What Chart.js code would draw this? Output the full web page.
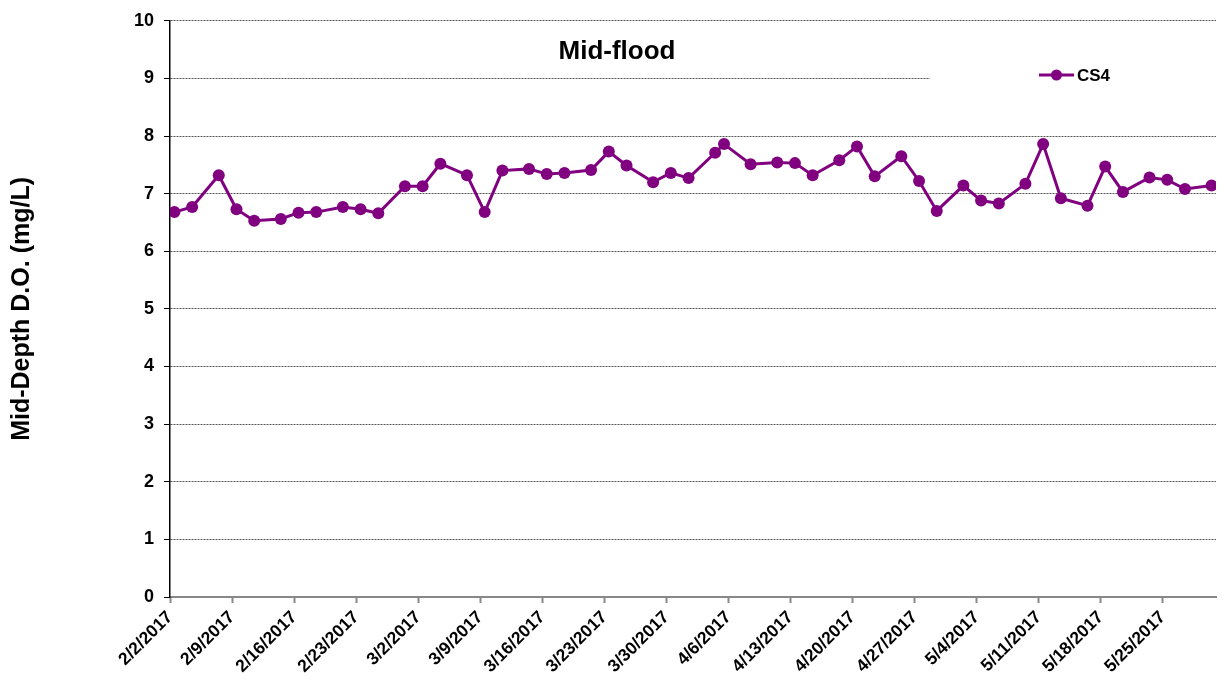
<!DOCTYPE html>
<html><head><meta charset="utf-8">
<script src="https://cdn.jsdelivr.net/npm/chart.js@4/dist/chart.umd.min.js"></script>
<style>html,body{margin:0;padding:0;background:#fff}#wrap{width:1227px;height:684px}</style>
</head><body><div id="wrap"><canvas id="c" width="1227" height="684"></canvas></div>
<script>
const startDate = "2/2/2017";
const axisEndDate = "5/31/2017";
const sampleDates = ["2/2/2017","2/4/2017","2/7/2017","2/9/2017","2/11/2017","2/14/2017","2/16/2017","2/18/2017","2/21/2017","2/23/2017","2/25/2017","2/28/2017","3/2/2017","3/4/2017","3/7/2017","3/9/2017","3/11/2017","3/14/2017","3/16/2017","3/18/2017","3/21/2017","3/23/2017","3/25/2017","3/28/2017","3/30/2017","4/1/2017","4/4/2017","4/5/2017","4/8/2017","4/11/2017","4/13/2017","4/15/2017","4/18/2017","4/20/2017","4/22/2017","4/25/2017","4/27/2017","4/29/2017","5/2/2017","5/4/2017","5/6/2017","5/9/2017","5/11/2017","5/13/2017","5/16/2017","5/18/2017","5/20/2017","5/23/2017","5/25/2017","5/27/2017","5/30/2017"];
const cs4Values = [6.68,6.77,7.32,6.73,6.53,6.56,6.67,6.68,6.77,6.73,6.66,7.13,7.13,7.52,7.32,6.68,7.40,7.43,7.34,7.36,7.41,7.73,7.49,7.20,7.36,7.27,7.71,7.86,7.51,7.54,7.53,7.32,7.58,7.82,7.30,7.65,7.22,6.70,7.14,6.88,6.83,7.17,7.86,6.92,6.79,7.47,7.03,7.28,7.24,7.08,7.14];
const xTickLabels = ["2/2/2017","2/9/2017","2/16/2017","2/23/2017","3/2/2017","3/9/2017","3/16/2017","3/23/2017","3/30/2017","4/6/2017","4/13/2017","4/20/2017","4/27/2017","5/4/2017","5/11/2017","5/18/2017","5/25/2017"];
const seriesName = "CS4";
const chartTitle = "Mid-flood";
const yAxisTitle = "Mid-Depth D.O. (mg/L)";
const yMin = 0, yMax = 10, yStep = 1;

const FONT = '"Liberation Sans", Arial, sans-serif';
const PURPLE = '#800080';

function dayOffset(s){
  const [m,d,y] = s.split('/').map(Number);
  const [m0,d0,y0] = startDate.split('/').map(Number);
  return Math.round((Date.UTC(y,m-1,d) - Date.UTC(y0,m0-1,d0)) / 86400000);
}
// Excel-style date axis: each day is a slot, the point sits in the middle of its slot
const points = sampleDates.map((s,i) => ({x: dayOffset(s) + 0.5, y: cs4Values[i]}));

const overlay = {
  id: 'overlay',
  beforeDatasetsDraw(chart, args, opts){
    const ctx = chart.ctx, ca = chart.chartArea;
    ctx.save();
    ctx.fillStyle = '#fff';
    ctx.fillRect(opts.legendBox.x, opts.legendBox.y, ca.right + 2 - opts.legendBox.x, opts.legendBox.h);
    ctx.restore();
  },
  afterDatasetsDraw(chart, args, opts){
    const ctx = chart.ctx;
    const ds = chart.data.datasets[0];
    ctx.save();
    // title
    ctx.fillStyle = '#000';
    ctx.font = 'bold 26px ' + FONT;
    ctx.textAlign = 'center';
    ctx.textBaseline = 'middle';
    ctx.fillText(chartTitle, opts.title.x, opts.title.y);
    // legend
    const L = opts.legend;
    ctx.strokeStyle = ds.borderColor;
    ctx.lineWidth = 3;
    ctx.beginPath();
    ctx.moveTo(L.x, L.y); ctx.lineTo(L.x + 35, L.y);
    ctx.stroke();
    ctx.fillStyle = ds.pointBackgroundColor;
    ctx.beginPath();
    ctx.arc(L.x + 17.5, L.y, 5.5, 0, Math.PI*2);
    ctx.fill();
    ctx.fillStyle = '#000';
    ctx.font = 'bold 17px ' + FONT;
    ctx.textAlign = 'left';
    ctx.fillText(ds.label, L.x + 38, L.y + 1);
    ctx.restore();
  }
};

new Chart(document.getElementById('c'), {
  type: 'line',
  data: {
    datasets: [{
      label: seriesName,
      data: points,
      borderColor: PURPLE,
      backgroundColor: PURPLE,
      pointBackgroundColor: PURPLE,
      pointBorderColor: PURPLE,
      borderWidth: 3,
      pointRadius: 6,
      pointBorderWidth: 0,
      tension: 0,
      fill: false
    }]
  },
  options: {
    responsive: false,
    animation: false,
    devicePixelRatio: 1,
    layout: {padding: {left: 0, right: 11, top: 20, bottom: 0}},
    plugins: {
      legend: {display: false},
      tooltip: {enabled: false},
      overlay: {
        title: {x: 617, y: 52},
        legend: {x: 1039, y: 75},
        legendBox: {x: 930, y: 60, h: 32}
      }
    },
    scales: {
      x: {
        type: 'linear',
        min: 0,
        max: dayOffset(axisEndDate),
        afterBuildTicks: s => { s.ticks = xTickLabels.map(l => ({value: dayOffset(l)})); },
        afterFit: s => { s.height = 87; },
        ticks: {
          autoSkip: false, minRotation: 45, maxRotation: 45,
          font: {family: FONT, size: 17.5, weight: 'bold'}, color: '#000', padding: 4,
          callback: (v, i) => xTickLabels[i]
        },
        grid: {drawOnChartArea: false, drawTicks: true, tickLength: 6, tickColor: '#888', tickWidth: 2},
        border: {color: '#888', width: 2}
      },
      y: {
        min: yMin, max: yMax,
        afterFit: s => { s.width = 170; },
        ticks: {stepSize: yStep, font: {family: FONT, size: 18, weight: 'bold'}, color: '#000', padding: 10},
        grid: {color: '#555', lineWidth: 1, tickColor: '#000', tickLength: 6, tickBorderDash: []},
        border: {color: '#000', width: 1.5, dash: [2, 1]},
        title: {display: true, text: yAxisTitle, color: '#000', font: {family: FONT, size: 25, weight: 'bold'}, padding: {top: 7, bottom: 0}}
      }
    }
  },
  plugins: [overlay]
});
</script></body></html>
